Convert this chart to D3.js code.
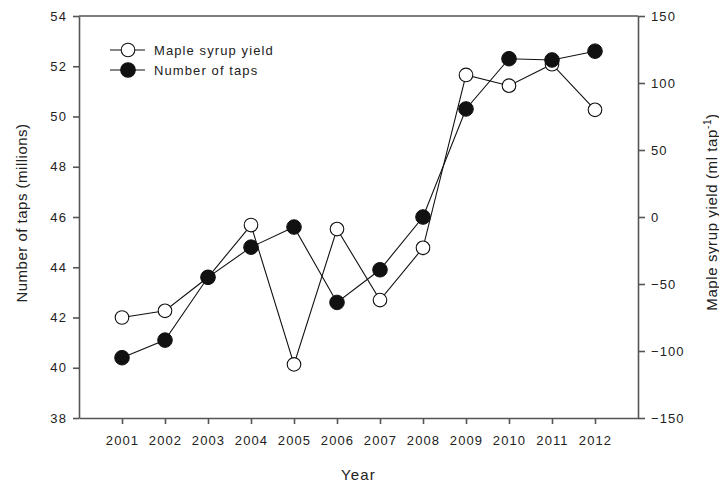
<!DOCTYPE html>
<html>
<head>
<meta charset="utf-8">
<script src="https://cdn.jsdelivr.net/npm/d3@7"></script>
<style>
  body { margin: 0; background: #fff; }
  svg text { font-family: "Liberation Sans", Arial, sans-serif; fill: #222; }
</style>
</head>
<body>
<div id="chart"></div>
<script>
// data
const years = [2001, 2002, 2003, 2004, 2005, 2006, 2007, 2008, 2009, 2010, 2011, 2012];
const taps = [40.4, 41.1, 43.6, 44.8, 45.6, 42.6, 43.9, 46.0, 50.3, 52.3, 52.25, 52.6];
const yieldMl = [-75, -70, -45, -6, -110, -9, -62, -23, 106, 98, 114, 80];
const leftTicks = [38, 40, 42, 44, 46, 48, 50, 52, 54];
const rightTicks = [-150, -100, -50, 0, 50, 100, 150];

const W = 719, H = 485;
const margin = { top: 16, right: 81, bottom: 67, left: 79 },
    width = W - margin.left - margin.right,
    height = H - margin.top - margin.bottom;

const svg = d3.select("#chart")
    .append("svg")
    .attr("width", W)
    .attr("height", H)
    .append("g")
    .attr("transform", `translate(${margin.left},${margin.top})`);

const x = d3.scaleLinear().domain([2000, 2013]).range([0, width]);
const yL = d3.scaleLinear().domain([38, 54]).range([height, 0]);
const yR = d3.scaleLinear().domain([-150, 150]).range([height, 0]);

const axisCol = "#555";
const styleAxis = g => {
    g.selectAll("path, line").attr("stroke", axisCol).attr("stroke-width", 1.6);
    g.selectAll("text").attr("font-size", 13).attr("letter-spacing", 1.1).attr("fill", "#222");
};

// top frame line
svg.append("line")
    .attr("x1", 0).attr("x2", width).attr("y1", 0).attr("y2", 0)
    .attr("stroke", axisCol).attr("stroke-width", 1.6);

svg.append("g")
    .attr("transform", `translate(0,${height})`)
    .call(d3.axisBottom(x).tickValues(years).tickFormat(d3.format("d")).tickSize(6).tickSizeOuter(0).tickPadding(12))
    .call(styleAxis);

svg.append("g")
    .call(d3.axisLeft(yL).tickValues(leftTicks).tickSize(6).tickSizeOuter(0).tickPadding(6))
    .call(styleAxis);

svg.append("g")
    .attr("transform", `translate(${width},0)`)
    .call(d3.axisRight(yR).tickValues(rightTicks).tickSize(7).tickSizeOuter(0).tickPadding(6))
    .call(styleAxis);

// axis titles
svg.append("text")
    .attr("x", width / 2).attr("y", height + 62)
    .attr("text-anchor", "middle")
    .attr("font-size", 15).attr("letter-spacing", 1.2)
    .text("Year");

svg.append("text")
    .attr("transform", `translate(${-52},${197}) rotate(-90)`)
    .attr("text-anchor", "middle")
    .attr("font-size", 15).attr("letter-spacing", 0.5)
    .text("Number of taps (millions)");

const rt = svg.append("text")
    .attr("transform", `translate(${width + 79},${196}) rotate(-90)`)
    .attr("text-anchor", "middle")
    .attr("font-size", 15).attr("letter-spacing", 0.6);
rt.append("tspan").text("Maple syrup yield (ml tap");
rt.append("tspan").attr("dy", -6).attr("font-size", 10).text("-1");
rt.append("tspan").attr("dy", 6).text(")");

// series
const lineL = d3.line().x((d, i) => x(years[i])).y(d => yL(d));
const lineR = d3.line().x((d, i) => x(years[i])).y(d => yR(d));

svg.append("path").datum(yieldMl)
    .attr("d", lineR).attr("fill", "none").attr("stroke", "#111").attr("stroke-width", 1.1);
svg.selectAll(".open").data(yieldMl).join("circle")
    .attr("class", "open")
    .attr("cx", (d, i) => x(years[i])).attr("cy", d => yR(d))
    .attr("r", 6.8).attr("fill", "#fff").attr("stroke", "#111").attr("stroke-width", 1.1);

svg.append("path").datum(taps)
    .attr("d", lineL).attr("fill", "none").attr("stroke", "#111").attr("stroke-width", 1.1);
svg.selectAll(".filled").data(taps).join("circle")
    .attr("class", "filled")
    .attr("cx", (d, i) => x(years[i])).attr("cy", d => yL(d))
    .attr("r", 7.3).attr("fill", "#111").attr("stroke", "#111").attr("stroke-width", 1);

// legend
const legend = svg.append("g").attr("transform", "translate(31,34)");
const items = [
    { label: "Maple syrup yield", fill: "#fff", r: 6.8 },
    { label: "Number of taps", fill: "#111", r: 7.3 }
];
items.forEach((it, i) => {
    const g = legend.append("g").attr("transform", `translate(0,${i * 20})`);
    g.append("line").attr("x1", 0).attr("x2", 35).attr("stroke", "#111").attr("stroke-width", 1.1);
    g.append("circle").attr("cx", 18).attr("r", it.r).attr("fill", it.fill).attr("stroke", "#111").attr("stroke-width", 1.1);
    g.append("text").attr("x", 44).attr("dy", "0.35em")
        .attr("font-size", 13).attr("letter-spacing", 1.1).text(it.label);
});
</script>
</body>
</html>
